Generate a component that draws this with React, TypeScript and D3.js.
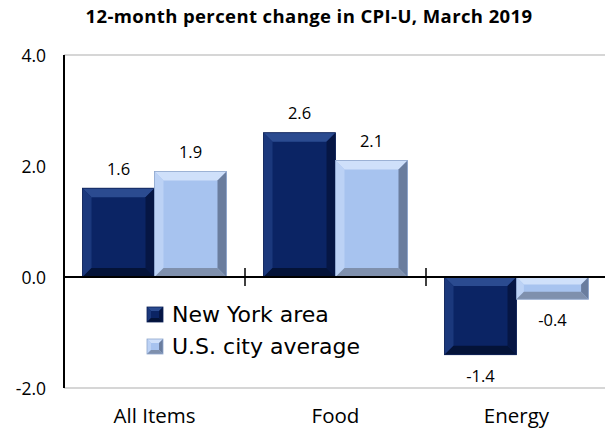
import React from "react";
import * as d3 from "d3";

const categories = ["All Items", "Food", "Energy"];
const seriesNames = ["New York area", "U.S. city average"];
const newYork = [1.6, 2.6, -1.4];
const usAverage = [1.9, 2.1, -0.4];
const yTicks = [-2, 0, 2, 4];
const title = "12-month percent change in CPI-U, March 2019";

const W = 605, H = 432;
const left = 64, right = 607, top = 55, bottom = 388;

const palettes = [
  { face: "#0b2464", top: "#2b4b90", left: "#1b387c", right: "#061644", bottom: "#041338", edge: "#0a1f55" },
  { face: "#a7c3ef", top: "#cfe0fa", left: "#bcd2f5", right: "#6a7d9e", bottom: "#7f90ad", edge: "#8ea6cc" },
];

function BevelBar({ x, y, w, h, p }: { x: number; y: number; w: number; h: number; p: any }) {
  const b = Math.min(9, w / 4, h / 3);
  const x2 = x + w, y2 = y + h;
  return (
    <g>
      <rect x={x} y={y} width={w} height={h} fill={p.face} />
      <polygon points={`${x},${y} ${x2},${y} ${x2 - b},${y + b} ${x + b},${y + b}`} fill={p.top} />
      <polygon points={`${x},${y} ${x + b},${y + b} ${x + b},${y2 - b} ${x},${y2}`} fill={p.left} />
      <polygon points={`${x2},${y} ${x2},${y2} ${x2 - b},${y2 - b} ${x2 - b},${y + b}`} fill={p.right} />
      <polygon points={`${x},${y2} ${x + b},${y2 - b} ${x2 - b},${y2 - b} ${x2},${y2}`} fill={p.bottom} />
      <rect x={x} y={y} width={w} height={h} fill="none" stroke={p.edge} strokeWidth={0.8} />
    </g>
  );
}

export default function App() {
  const y = d3.scaleLinear().domain([-2, 4]).range([bottom, top]);
  const x0 = d3.scaleBand().domain(categories).range([left, right]).paddingInner(0).paddingOuter(0);
  const x1 = d3.scaleBand().domain(seriesNames).range([0, x0.bandwidth()]).paddingOuter(0.257).paddingInner(0);
  const series = [newYork, usAverage];
  const font = "'Open Sans', sans-serif";

  return (
    <svg width={W} height={H} style={{ position: "absolute", left: 0, top: 0, background: "#fff" }}>
      <text x={309} y={23} textAnchor="middle" fontFamily={font} fontWeight="bold" fontSize={18.5} letterSpacing={0.4} fill="#000">{title}</text>
      <line x1={left} x2={W} y1={top} y2={top} stroke="#c8c8c8" strokeWidth={1.5} />
      <line x1={left} x2={W} y1={bottom} y2={bottom} stroke="#c8c8c8" strokeWidth={1.5} />
      {yTicks.map((t) => (
        <text key={t} x={46} y={y(t) + 6.5} textAnchor="end" fontFamily={font} fontSize={17.5} fill="#000">{t.toFixed(1)}</text>
      ))}
      {categories.map((c, ci) =>
        series.map((s, si) => {
          const v = s[ci];
          const bx = (x0(c) as number) + (x1(seriesNames[si]) as number);
          const bw = x1.bandwidth();
          const yt = y(Math.max(0, v));
          const yb = y(Math.min(0, v));
          return (
            <g key={c + si}>
              <BevelBar x={bx} y={yt} w={bw} h={yb - yt} p={palettes[si]} />
              <text x={bx + bw / 2} y={v >= 0 ? yt - 13.5 : yb + 27} textAnchor="middle" fontFamily={font} fontSize={16.5} fill="#000">{v.toFixed(1)}</text>
            </g>
          );
        })
      )}
      <line x1={left} x2={left} y1={top} y2={bottom} stroke="#000" strokeWidth={2} />
      <line x1={left} x2={W} y1={y(0)} y2={y(0)} stroke="#000" strokeWidth={2} />
      {categories.slice(1).map((c) => (
        <line key={c} x1={x0(c) as number} x2={x0(c) as number} y1={y(0) - 9} y2={y(0) + 9} stroke="#000" strokeWidth={1.5} />
      ))}
      {categories.map((c) => (
        <text key={c} x={(x0(c) as number) + x0.bandwidth() / 2} y={423} textAnchor="middle" fontFamily={font} fontSize={20.5} fill="#000">{c}</text>
      ))}
      {seriesNames.map((n, i) => (
        <g key={n}>
          <BevelBar x={147} y={307 + i * 32} w={16} h={15} p={palettes[i]} />
          <text x={172} y={322 + i * 32} fontFamily="'DejaVu Sans', sans-serif" fontSize={22} fill="#000">{n}</text>
        </g>
      ))}
    </svg>
  );
}
